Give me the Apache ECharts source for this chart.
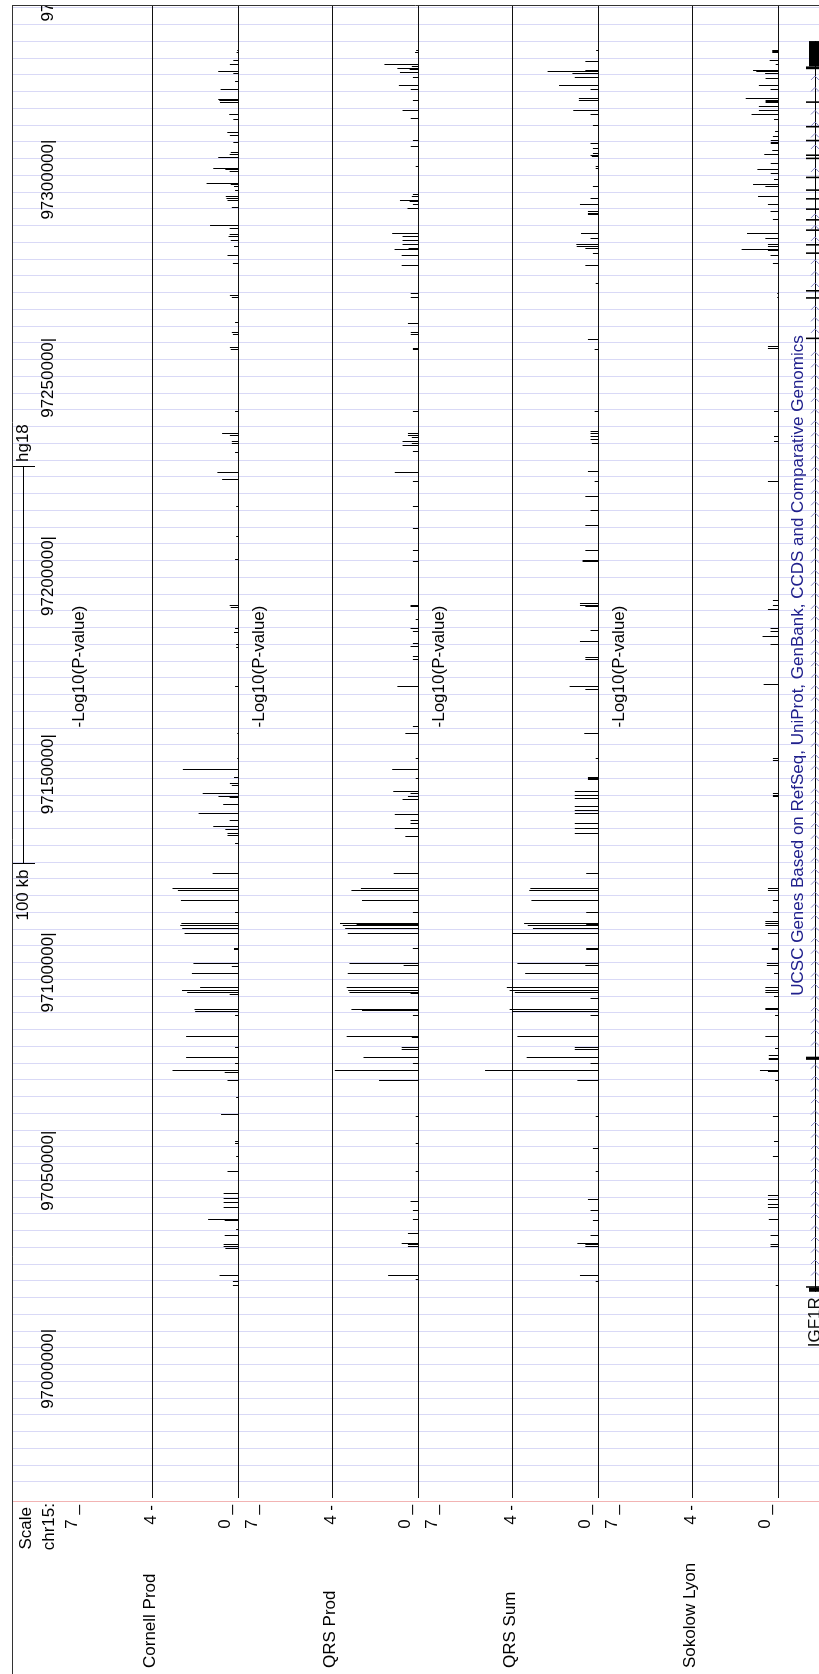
<!DOCTYPE html>
<html>
<head>
<meta charset="utf-8">
<title>IGF1R region association tracks (hg18 chr15)</title>
<script src="https://cdn.jsdelivr.net/npm/echarts@6.0.0/dist/echarts.min.js"></script>
<style>
html,body{margin:0;padding:0;background:#ffffff;}
#chart{width:819px;height:1674px;}
</style>
</head>
<body>
<div id="chart"></div>
<script>
// ---------------- DATA (positions in kb on chr15, hg18) ----------------
const viewStartKb = 96957.873;
const viewEndKb = 97334.245;
const positionTicksKb = [97000, 97050, 97100, 97150, 97200, 97250, 97300, 97350];
const scaleBarKb = [97118, 97218];
const scaleBarLabel = '100 kb';
const assemblyLabel = 'hg18';
const chromLabel = 'chr15:';
const scaleLabel = 'Scale';
const trackNames = ['Cornell Prod', 'QRS Prod', 'QRS Sum', 'Sokolow Lyon'];
const trackCenterLabel = '-Log10(P-value)';
const yTickValues = [7, 4, 0];
const yTickLabels = ['7 _', '4 -', '0 _'];
const refLineValues = [0, 4];

// [position kb, -log10(p)]
const cornellProd = [
[97323.1,0.05],[97322.6,0.08],[97320.4,0.23],[97319.6,0.39],[97317.7,0.93],[97317.1,0.23],[97315.1,0.15],[97313.1,0.82],[97310.7,0.93],[97310.3,0.88],[97309.9,0.85],[97306.8,0.42],[97305.7,0.23],[97302.3,0.51],[97301.7,0.39],[97299.7,0.23],[97297.4,0.35],[97296.9,0.4],[97296.1,0.93],[97293.3,1.16],[97293.0,0.6],[97292.6,0.4],[97289.5,1.47],[97289.2,0.35],[97288.8,0.2],[97287.8,0.15],[97286.1,0.58],[97285.8,0.55],[97285.3,0.5],[97283.3,0.3],[97279.0,1.31],[97278.2,0.4],[97276.5,0.4],[97276.0,0.45],[97275.2,0.35],[97273.5,0.2],[97271.4,0.5],[97269.4,0.25],
[97261.3,0.39],[97260.8,0.3],[97254.3,0.15],[97251.8,0.3],[97251.3,0.25],[97248.0,0.39],[97247.6,0.35],[97231.9,0.15],[97226.5,0.75],[97226.0,0.39],[97224.5,0.3],[97224.0,0.3],[97221.7,0.15],[97216.5,0.97],[97214.7,0.75],[97207.9,0.1],[97200.3,0.1],
[97194.5,0.15],[97183.1,0.4],[97182.6,0.35],[97177.3,0.15],[97176.3,0.2],[97173.3,0.1],[97172.5,0.1],[97162.5,0.15],[97150.8,0.05],[97144.5,0.05],[97141.7,2.57],[97139.7,0.2],[97138.2,0.39],[97137.7,0.3],[97135.6,1.65],[97134.8,0.92],[97134.6,0.4],[97132.7,0.7],[97130.6,1.84],[97128.9,0.4],[97127.2,1.16],[97126.4,0.6],[97125.6,0.5],[97124.9,0.5],
[97123.1,0.15],[97115.5,1.19],[97111.7,3.05],[97111.1,2.8],[97108.7,2.66],[97105.5,0.15],[97102.9,2.64],[97102.4,2.69],[97101.6,2.6],[97100.3,2.49],[97096.6,0.2],[97096.2,0.2],[97092.6,2.08],[97091.9,0.3],[97090.1,2.15],[97086.7,1.77],[97085.8,2.61],[97085.3,2.37],[97085.0,0.4],[97081.0,2.03],[97080.7,2.0],[97079.7,0.15],[97074.2,2.42],[97071.6,0.15],[97069.0,2.42],[97067.4,0.15],[97065.8,3.05],[97065.6,1.55],[97065.3,0.63],[97063.1,0.5],[97058.8,0.1],[97054.5,0.8],
[97047.9,0.15],[97047.4,0.15],[97044.0,0.1],[97040.2,0.5],[97034.6,0.68],[97033.5,0.68],[97032.4,0.68],[97031.2,0.68],[97028.2,1.4],[97028.0,0.63],[97025.5,0.1],[97024.2,0.63],[97021.7,0.68],[97021.3,0.68],[97020.9,0.6],[97014.1,0.87],[97012.4,0.25],[97011.6,0.25]
];
const qrsProd = [
[97323.1,0.1],[97322.6,0.15],[97319.6,1.57],[97319.1,0.3],[97318.5,0.97],[97318.2,0.4],[97317.4,0.85],[97316.3,0.25],[97314.1,0.9],[97313.1,0.35],[97310.5,0.25],[97307.8,0.73],[97305.9,0.35],[97300.4,0.25],[97298.8,0.35],[97293.7,0.12],[97286.6,0.25],[97286.1,0.3],[97285.3,0.85],[97284.9,0.4],[97284.1,0.25],[97283.2,0.5],[97276.9,1.21],[97276.1,0.73],[97275.2,0.73],[97274.2,0.6],[97274.0,0.73],[97273.1,0.45],[97272.7,1.1],[97271.4,0.77],[97268.9,0.77],[97268.7,0.25],
[97261.8,0.35],[97260.6,0.35],[97254.2,0.48],[97252.0,0.35],[97251.3,0.35],[97247.9,0.25],[97247.5,0.25],[97231.9,0.25],[97226.5,0.48],[97226.0,0.48],[97225.5,0.3],[97224.3,0.73],[97223.9,0.3],[97223.5,0.73],[97221.8,0.25],[97216.5,1.09],[97214.3,0.25],[97207.9,0.25],[97202.5,0.25],[97197.0,0.25],
[97194.2,0.25],[97183.1,0.36],[97182.8,0.36],[97179.4,0.12],[97177.3,0.36],[97176.4,0.25],[97173.5,0.25],[97172.6,0.36],[97170.1,0.25],[97169.3,0.25],[97162.5,0.97],[97152.4,0.25],[97150.8,0.6],[97144.5,0.12],[97141.7,1.21],[97139.4,0.12],[97136.0,1.16],[97135.6,0.36],[97134.8,0.48],[97134.0,0.73],[97130.2,1.09],[97128.9,0.36],[97128.1,0.36],[97126.8,1.09],[97124.7,0.6],
[97115.5,1.14],[97111.7,2.66],[97111.1,3.1],[97108.7,2.61],[97105.5,0.25],[97102.9,3.63],[97102.6,2.86],[97102.4,3.5],[97101.6,3.39],[97100.3,3.27],[97096.6,0.25],[97096.4,0.25],[97092.6,3.19],[97092.2,0.68],[97090.1,3.27],[97086.7,3.32],[97085.8,3.25],[97085.3,3.19],[97085.2,0.36],[97081.2,3.1],[97080.8,2.61],[97079.7,0.25],[97074.2,3.32],[97074.0,0.3],[97071.5,0.77],[97071.1,0.77],[97069.0,2.54],[97067.5,0.25],[97065.8,3.87],[97065.6,1.74],[97063.1,1.82],[97054.1,0.12],
[97047.4,0.12],[97040.2,0.12],[97032.6,0.36],[97030.5,0.25],[97028.2,0.25],[97024.7,0.48],[97022.1,0.77],[97021.7,0.48],[97021.2,0.48],[97014.1,1.4],[97012.9,0.12]
];
const qrsSum = [
[97323.1,0.1],[97320.2,0.6],[97318.1,0.6],[97317.7,2.35],[97317.3,1.2],[97317.1,0.9],[97316.3,1.09],[97314.1,1.82],[97313.1,0.36],[97311.0,0.9],[97310.5,0.9],[97308.0,1.16],[97306.8,0.36],[97304.2,0.25],[97299.6,0.36],[97298.4,0.25],[97297.1,0.25],[97296.5,0.36],[97296.2,0.3],[97293.7,0.12],[97293.3,0.12],[97288.7,0.25],[97285.7,0.36],[97284.1,0.85],[97282.4,0.48],[97282.0,0.48],[97281.6,0.48],[97276.9,0.8],[97275.7,0.36],[97274.0,1.02],[97273.6,1.0],[97273.1,0.6],[97271.9,0.25],[97268.9,0.6],
[97264.3,0.12],[97250.0,0.48],[97247.5,0.17],[97231.9,0.17],[97226.9,0.36],[97226.5,0.36],[97225.6,0.36],[97224.8,0.36],[97223.9,0.3],[97216.8,0.48],[97214.3,0.17],[97210.5,0.6],[97207.1,0.36],[97203.3,0.6],[97197.0,0.6],
[97194.4,0.73],[97194.0,0.73],[97183.6,0.85],[97183.1,0.85],[97182.7,0.6],[97176.8,0.36],[97173.9,0.85],[97170.0,0.6],[97169.3,0.6],[97162.5,1.33],[97161.7,0.6],[97150.8,0.65],[97144.5,0.12],[97139.7,0.48],[97139.4,0.48],[97139.1,0.48],[97136.0,1.09],[97135.2,1.09],[97134.4,1.09],[97132.4,1.09],[97131.4,1.09],[97130.6,1.09],[97128.1,1.09],[97126.8,1.09],[97125.6,1.09],
[97115.5,0.56],[97111.7,3.15],[97111.1,3.2],[97108.7,3.1],[97105.5,0.56],[97102.9,3.44],[97102.5,0.56],[97102.4,3.27],[97101.6,3.03],[97100.3,4.0],[97096.6,0.56],[97096.2,0.56],[97092.6,3.75],[97092.3,0.6],[97090.1,3.39],[97086.7,4.24],[97085.8,4.11],[97085.3,3.87],[97083.9,0.36],[97081.0,4.11],[97080.6,4.0],[97079.7,0.36],[97074.2,3.75],[97071.5,1.09],[97071.1,1.09],[97069.0,3.32],[97067.5,0.36],[97065.8,5.25],[97065.6,2.35],[97063.1,0.97],[97054.1,0.12],
[97046.1,0.25],[97040.2,0.12],[97033.1,0.48],[97030.5,0.36],[97028.0,0.25],[97024.2,0.36],[97022.1,0.97],[97021.7,0.6],[97021.3,0.6],[97014.1,0.85],[97012.4,0.12]
];
const sokolowLyon = [
[97323.1,0.28],[97322.8,0.28],[97322.4,0.28],[97320.4,0.4],[97319.4,0.12],[97317.9,1.17],[97317.6,1.02],[97317.3,0.6],[97317.1,0.6],[97316.0,0.59],[97314.1,0.9],[97313.1,0.36],[97310.9,1.51],[97310.4,0.59],[97310.1,0.59],[97309.8,0.59],[97309.0,0.9],[97308.0,0.9],[97306.9,1.24],[97305.5,0.2],[97302.5,0.15],[97301.3,0.25],[97300.2,0.35],[97299.9,0.35],[97299.6,0.35],[97297.9,0.28],[97296.7,0.65],[97294.6,0.35],[97293.1,0.97],[97291.9,0.35],[97290.4,0.2],[97289.1,1.17],[97288.7,0.6],[97286.1,0.94],[97284.1,0.48],[97282.4,0.36],[97280.3,0.25],[97276.9,1.45],[97275.7,0.6],[97274.0,0.48],[97273.6,0.48],[97272.9,1.7],[97272.5,0.48],[97271.4,0.36],[97269.3,0.25],
[97261.8,0.05],[97260.6,0.05],[97248.3,0.48],[97247.9,0.48],[97231.9,0.2],[97225.6,0.2],[97224.3,0.2],[97214.3,0.48],
[97184.4,0.25],[97183.1,0.25],[97181.9,0.48],[97177.3,0.36],[97176.4,0.36],[97175.2,0.73],[97173.1,0.36],[97163.0,0.68],[97144.5,0.25],[97144.0,0.25],[97135.6,0.25],[97135.2,0.25],[97134.8,0.25],
[97111.7,0.48],[97111.1,0.48],[97108.7,0.25],[97105.5,0.25],[97103.3,0.6],[97102.9,0.6],[97102.4,0.6],[97100.3,0.48],[97096.6,0.3],[97096.2,0.3],[97092.6,0.53],[97092.3,0.53],[97090.1,0.2],[97086.7,0.6],[97085.8,0.6],[97085.3,0.6],[97084.3,0.2],[97081.4,0.6],[97081.0,0.6],[97079.7,0.15],[97074.2,0.6],[97071.3,0.15],[97069.6,0.44],[97068.8,0.44],[97068.4,0.44],[97065.8,0.85],[97065.5,0.48],[97063.1,0.15],[97054.1,0.25],
[97047.8,0.2],[97044.0,0.25],[97034.3,0.48],[97033.1,0.48],[97032.0,0.48],[97031.2,0.48],[97028.2,0.44],[97024.2,0.36],[97021.7,0.36],[97021.3,0.36],[97011.6,0.12]
];
const trackData = [cornellProd, qrsProd, qrsSum, sokolowLyon];

// gene track
const geneTrackLabel = 'UCSC Genes Based on RefSeq, UniProt, GenBank, CCDS and Comparative Genomics';
const geneName = 'IGF1R';
const geneSpanKb = [97009.9, 97325.4];
const geneExonsKb = [[97011.0,97011.3],[97068.4,97069.2],[97250.2,97250.6],[97260.4,97260.8],[97262.2,97262.6],[97271.7,97272.1],[97273.8,97274.2],[97277.5,97277.9],[97280.1,97280.5],[97282.8,97283.2],[97285.4,97285.8],[97287.6,97288.0],[97290.8,97291.2],[97295.6,97296.0],[97296.4,97296.8],[97300.1,97300.5],[97303.6,97304.0],[97309.8,97310.2],[97318.3,97319.0]];
const geneUtrKb = [[97009.9,97011.0],[97319.0,97325.4]];

// ---------------- LAYOUT / STYLE ----------------
const FONT_FAMILY = '"Liberation Sans", Arial, Helvetica, sans-serif';
const FONT = '17px ' + FONT_FAMILY;
const TOP = 6, HEIGHT = 1492;
const TRACK_LEFT0 = 87.3, TRACK_STEP = 180, TRACK_WIDTH = 151;
const TICK_LABEL_SHIFT = [-14.8, -0.6, -12.5];

// light guide lines every 300/71 kb, aligned with 97,000,000
const guideKb = [];
for (let k = -9; k <= 79; k++) guideKb.push(97000 + k * 300 / 71);

// intron direction chevrons (decoration)
const chevronsKb = [];
for (let p = geneSpanKb[0] + 2.2; p < geneSpanKb[1] - 1.5; p += 2.9) {
  const hit = geneExonsKb.concat(geneUtrKb).some(e => p > e[0] - 0.9 && p < e[1] + 0.9);
  if (!hit) chevronsKb.push(p);
}

function crisp(v) { return Math.round(v - 0.5) + 0.5; }
function vText(text, x, y, align, color) {
  return {
    type: 'text', x: x, y: y, rotation: Math.PI / 2, silent: true,
    style: {
      text: text, fill: color || '#000', font: FONT, fontSize: 17, fontFamily: FONT_FAMILY,
      align: align, textAlign: align, verticalAlign: 'middle', textVerticalAlign: 'middle'
    }
  };
}

const grids = [{ left: 12, top: TOP, width: 807, height: HEIGHT }];
for (let i = 0; i < 4; i++) grids.push({ left: TRACK_LEFT0 + TRACK_STEP * i, top: TOP, width: TRACK_WIDTH, height: HEIGHT });
grids.push({ left: 780, top: TOP, width: 39, height: HEIGHT });

const xAxes = [{ gridIndex: 0, type: 'value', min: 0, max: 1, show: false }];
for (let i = 0; i < 4; i++) xAxes.push({ gridIndex: i + 1, type: 'value', min: 0, max: 7, inverse: true, show: false });
xAxes.push({ gridIndex: 5, type: 'value', min: 0, max: 1, show: false });
const yAxes = [0, 1, 2, 3, 4, 5].map(g => ({ gridIndex: g, type: 'value', min: viewStartKb, max: viewEndKb, show: false }));

const series = [];
// guide lines
series.push({
  type: 'custom', coordinateSystem: 'cartesian2d', xAxisIndex: 0, yAxisIndex: 0, z: 1, silent: true,
  data: guideKb.map(v => [0, v]), encode: { x: 0, y: 1 },
  renderItem: (params, api) => {
    const cs = params.coordSys;
    const y = crisp(api.coord([0, api.value(1)])[1]);
    return { type: 'line', shape: { x1: cs.x, y1: y, x2: cs.x + cs.width, y2: y }, style: { stroke: '#d9d9f6', lineWidth: 1 } };
  }
});
// base position labels
series.push({
  type: 'custom', coordinateSystem: 'cartesian2d', xAxisIndex: 0, yAxisIndex: 0, z: 3, silent: true, clip: true,
  data: positionTicksKb.map(v => [0, v]), encode: { x: 0, y: 1 },
  renderItem: (params, api) => {
    const cs = params.coordSys;
    const v = api.value(1);
    const y = api.coord([0, v])[1];
    return vText(String(Math.round(v * 1000)) + '|', cs.x + 36.5, y - 2.2, 'right');
  }
});
// scale bar
series.push({
  type: 'custom', coordinateSystem: 'cartesian2d', xAxisIndex: 0, yAxisIndex: 0, z: 3, silent: true,
  data: [[0, scaleBarKb[0], scaleBarKb[1]]], encode: { x: 0, y: [1, 2] },
  renderItem: (params, api) => {
    const cs = params.coordSys;
    const yLow = crisp(api.coord([0, api.value(1)])[1]);
    const yHigh = crisp(api.coord([0, api.value(2)])[1]);
    const bx = cs.x + 11.5;
    const st = { stroke: '#000', lineWidth: 1 };
    return {
      type: 'group', children: [
        { type: 'line', shape: { x1: bx, y1: yHigh, x2: bx, y2: yLow }, style: st },
        { type: 'line', shape: { x1: cs.x, y1: yHigh, x2: cs.x + 23, y2: yHigh }, style: st },
        { type: 'line', shape: { x1: cs.x, y1: yLow, x2: cs.x + 23, y2: yLow }, style: st },
        vText(scaleBarLabel, cs.x + 11, yLow + 6, 'right'),
        vText(assemblyLabel, cs.x + 11, yHigh - 4.5, 'left')
      ]
    };
  }
});

// data tracks
trackData.forEach((rows, i) => {
  const ax = i + 1;
  series.push({
    type: 'custom', coordinateSystem: 'cartesian2d', xAxisIndex: ax, yAxisIndex: ax, z: 4, silent: true,
    data: refLineValues.map(v => [v, viewStartKb]), encode: { x: 0, y: 1 },
    renderItem: (params, api) => {
      const cs = params.coordSys;
      const x = crisp(api.coord([api.value(0), viewStartKb])[0]);
      return { type: 'line', shape: { x1: x, y1: cs.y, x2: x, y2: cs.y + cs.height }, style: { stroke: '#111', lineWidth: 1 } };
    }
  });
  series.push({
    name: trackNames[i], type: 'custom', coordinateSystem: 'cartesian2d', xAxisIndex: ax, yAxisIndex: ax, z: 5, silent: true,
    data: rows.map(r => [r[1], r[0]]), encode: { x: 0, y: 1 },
    renderItem: (params, api) => {
      const p0 = api.coord([0, api.value(1)]);
      const p1 = api.coord([api.value(0), api.value(1)]);
      const y = crisp(p0[1]);
      return { type: 'line', shape: { x1: p0[0], y1: y, x2: p1[0], y2: y }, style: { stroke: '#000', lineWidth: 1 } };
    }
  });
  series.push({
    type: 'custom', coordinateSystem: 'cartesian2d', xAxisIndex: ax, yAxisIndex: ax, z: 5, silent: true,
    data: yTickValues.map(v => [v, viewStartKb]), encode: { x: 0, y: 1 },
    renderItem: (params, api) => {
      const p = api.coord([api.value(0), viewStartKb]);
      return vText(yTickLabels[params.dataIndex], p[0] + TICK_LABEL_SHIFT[params.dataIndex], p[1] + 7, 'right');
    }
  });
});

// gene track
const GENE_CX = 35; // offset of gene centre line inside gene grid
series.push({
  type: 'custom', coordinateSystem: 'cartesian2d', xAxisIndex: 5, yAxisIndex: 5, z: 5, silent: true,
  data: [[0, geneSpanKb[0], geneSpanKb[1]]], encode: { x: 0, y: [1, 2] },
  renderItem: (params, api) => {
    const cs = params.coordSys;
    const cx = crisp(cs.x + GENE_CX);
    const y0 = api.coord([0, api.value(1)])[1];
    const y1 = api.coord([0, api.value(2)])[1];
    return {
      type: 'group', children: [
        { type: 'line', shape: { x1: cx, y1: y1, x2: cx, y2: y0 }, style: { stroke: '#000', lineWidth: 1 } },
        vText(geneName, cs.x + GENE_CX + 0.8, y0 + 5.5, 'right', '#111')
      ]
    };
  }
});
series.push({
  type: 'custom', coordinateSystem: 'cartesian2d', xAxisIndex: 5, yAxisIndex: 5, z: 6, silent: true,
  data: chevronsKb.map(v => [0, v]), encode: { x: 0, y: 1 },
  renderItem: (params, api) => {
    const cs = params.coordSys;
    const cx = cs.x + GENE_CX;
    const y = api.coord([0, api.value(1)])[1];
    return { type: 'polyline', shape: { points: [[cx - 4, y + 4], [cx, y], [cx + 4, y + 4]] }, style: { stroke: '#8585c6', lineWidth: 1, fill: null } };
  }
});
[[geneUtrKb, 6], [geneExonsKb, 9]].forEach(pair => {
  series.push({
    type: 'custom', coordinateSystem: 'cartesian2d', xAxisIndex: 5, yAxisIndex: 5, z: 7, silent: true,
    data: pair[0].map(e => [0, e[0], e[1]]), encode: { x: 0, y: [1, 2] },
    renderItem: (params, api) => {
      const cs = params.coordSys;
      const cx = cs.x + GENE_CX;
      const ya = api.coord([0, api.value(1)])[1];
      const yb = api.coord([0, api.value(2)])[1];
      const h = Math.max(1.5, ya - yb);
      return { type: 'rect', shape: { x: cx - pair[1], y: yb, width: pair[1] * 2, height: h }, style: { fill: '#000' } };
    }
  });
});

// static frame and labels
const graphicEls = [
  { type: 'line', z: 50, shape: { x1: 12, y1: 5.5, x2: 819, y2: 5.5 }, style: { stroke: '#333', lineWidth: 1 } },
  { type: 'line', z: 50, shape: { x1: 12.5, y1: 5.5, x2: 12.5, y2: 1674 }, style: { stroke: '#333', lineWidth: 1 } },
  { type: 'line', z: 50, shape: { x1: 13, y1: 1501.5, x2: 819, y2: 1501.5 }, style: { stroke: '#f2b3b3', lineWidth: 1 } },
  Object.assign(vText(scaleLabel, 26.7, 1507, 'right'), { z: 50 }),
  Object.assign(vText(chromLabel, 49, 1503, 'right'), { z: 50 }),
  Object.assign(vText(geneTrackLabel, 798.5, 665.5, 'center', '#20208c'), { z: 50 })
];
trackNames.forEach((n, i) => {
  graphicEls.push(Object.assign(vText(n, 150 + TRACK_STEP * i, 1668, 'left'), { z: 50 }));
  graphicEls.push(Object.assign(vText(trackCenterLabel, 79.5 + TRACK_STEP * i, 666.5, 'center'), { z: 50 }));
});

const chart = echarts.init(document.getElementById('chart'), null, { renderer: 'canvas' });
chart.setOption({
  animation: false,
  backgroundColor: '#ffffff',
  grid: grids,
  xAxis: xAxes,
  yAxis: yAxes,
  series: series,
  graphic: { elements: graphicEls }
});
</script>
</body>
</html>
